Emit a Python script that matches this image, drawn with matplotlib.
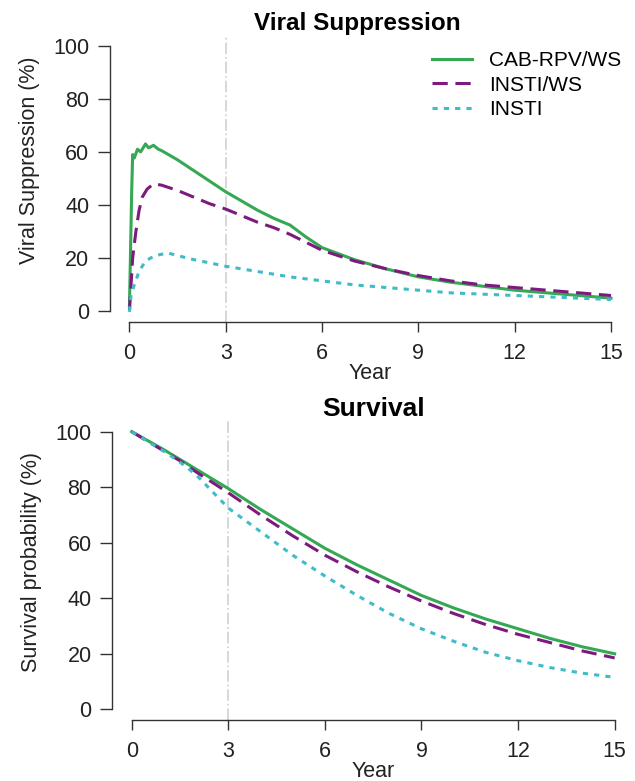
import numpy as np
import matplotlib.pyplot as plt

plt.rcParams['font.family'] = ['Liberation Sans', 'DejaVu Sans']

# 病毒抑制 (Viral Suppression) 数据
vs_cab_x = [0, 0.03, 0.07, 0.1, 0.15, 0.25, 0.35, 0.5, 0.6, 0.75, 0.9, 1.0, 1.5, 2, 2.5, 3, 3.5,
            4, 4.5, 5, 5.5, 6, 7, 8, 9, 10, 11, 12, 13, 14, 15]
vs_cab_y = [2, 20, 45, 59, 57.7, 61, 60, 63, 61.5, 62.5, 61, 60.5, 57, 53, 49, 45, 41.5,
            38, 35, 32.5, 28, 24, 19.5, 16, 13, 11, 9.5, 8, 7, 6, 5]
vs_ws_x = [0, 0.05, 0.1, 0.2, 0.3, 0.4, 0.55, 0.75, 1, 1.5, 2, 2.5, 3, 3.5, 4, 4.5, 5, 5.5,
           6, 7, 8, 9, 10, 11, 12, 13, 14, 15]
vs_ws_y = [0, 10, 20, 30, 38, 43, 46, 48, 47.5, 45.5, 43, 40.5, 38.5, 36, 33.5, 31.5, 29, 26,
           23, 19, 16, 13.5, 11.5, 10, 9, 8, 7, 6]
vs_insti_x = [0, 0.05, 0.15, 0.3, 0.5, 0.8, 1.2, 1.5, 2, 3, 4, 5, 6, 7, 8, 9, 10, 11, 12, 13, 14, 15]
vs_insti_y = [0, 6, 10, 15, 19, 21, 22, 21, 19.5, 17, 15, 13, 11.5, 10, 9, 8, 7, 6.5, 6, 5.5, 5, 4.5]

# 生存率 (Survival) 数据
sv_x = [0, 1, 1.5, 2, 3, 4, 5, 6, 7, 8, 9, 10, 11, 12, 13, 14, 15]
sv_cab = [100, 93.5, 90, 86.5, 79.5, 72, 65, 58, 52, 46.5, 41, 36.5, 32.5, 29, 25.5, 22.5, 20]
sv_ws = [100, 93, 89.5, 85.5, 78, 70, 62.5, 55.5, 49.5, 44, 39, 34.5, 30.5, 27, 24, 21, 18.5]
sv_insti = [100, 93, 89, 84.5, 72.5, 64, 55.5, 48, 41, 34.5, 29, 24.5, 20.5, 17.5, 15, 13, 11.5]

labels = ["CAB-RPV/WS", "INSTI/WS", "INSTI"]
colors = ["#35a853", "#7d1a7f", "#3fbcc8"]
styles = ["-", (0, (5, 2.5)), (0, (1.7, 2.0))]
x_ticks = [0, 3, 6, 9, 12, 15]
y_ticks = [0, 20, 40, 60, 80, 100]
FS = 15.5


def style_axes(ax, title, ylabel, title_x, ylab_y, title_fs):
    ax.set_xlim(-0.6, 15.6)
    ax.set_ylim(-4, 104)
    for s in ["top", "right"]:
        ax.spines[s].set_visible(False)
    ax.spines["left"].set_bounds(0, 100)
    ax.spines["bottom"].set_bounds(0, 15)
    for s in ["left", "bottom"]:
        ax.spines[s].set_color("#333333")
        ax.spines[s].set_linewidth(1.0)
    ax.set_xticks(x_ticks)
    ax.set_yticks(y_ticks)
    ax.tick_params(direction="out", width=1, color="#333333",
                   labelsize=FS, labelcolor="#222222")
    ax.tick_params(axis="x", length=7, pad=8)
    ax.tick_params(axis="y", length=9, pad=6)
    ax.set_xlabel("Year", fontsize=FS, labelpad=-1, color="#222222")
    ax.set_ylabel(ylabel, fontsize=FS, color="#222222")
    ax.yaxis.set_label_coords(-0.135, ylab_y)
    t = ax.set_title(title, fontsize=title_fs, fontweight="bold", pad=2)
    t.set_x(title_x)
    ax.axvline(3, color="#d4d4d4", lw=1.3, ls="-.", zorder=0)


fig = plt.figure(figsize=(6.35, 7.81), dpi=100)

ax1 = fig.add_axes([0.1735, 0.5876, 0.819, 0.3677])
ax1.plot(vs_cab_x, vs_cab_y, color=colors[0], ls=styles[0], lw=2.2, label=labels[0])
ax1.plot(vs_ws_x, vs_ws_y, color=colors[1], ls=styles[1], lw=2.2, label=labels[1])
ax1.plot(vs_insti_x, vs_insti_y, color=colors[2], ls=styles[2], lw=2.2, label=labels[2])
style_axes(ax1, "Viral Suppression", "Viral Suppression (%)", 0.475, 0.564, 17.5)
ax1.legend(loc="upper left", bbox_to_anchor=(431.7 / 635, 1 - 51 / 781),
           bbox_transform=fig.transFigure, frameon=False, fontsize=15,
           handlelength=1.92, handletextpad=0.85, labelspacing=0.27,
           borderpad=0, borderaxespad=0)

ax2 = fig.add_axes([0.177, 0.0776, 0.8214, 0.3839])
ax2.plot(sv_x, sv_cab, color=colors[0], ls=styles[0], lw=2.2)
ax2.plot(sv_x, sv_ws, color=colors[1], ls=styles[1], lw=2.2)
ax2.plot(sv_x, sv_insti, color=colors[2], ls=styles[2], lw=2.2)
style_axes(ax2, "Survival", "Survival probability (%)", 0.5, 0.528, 19)

plt.savefig("out.png", dpi=100)
plt.close()
